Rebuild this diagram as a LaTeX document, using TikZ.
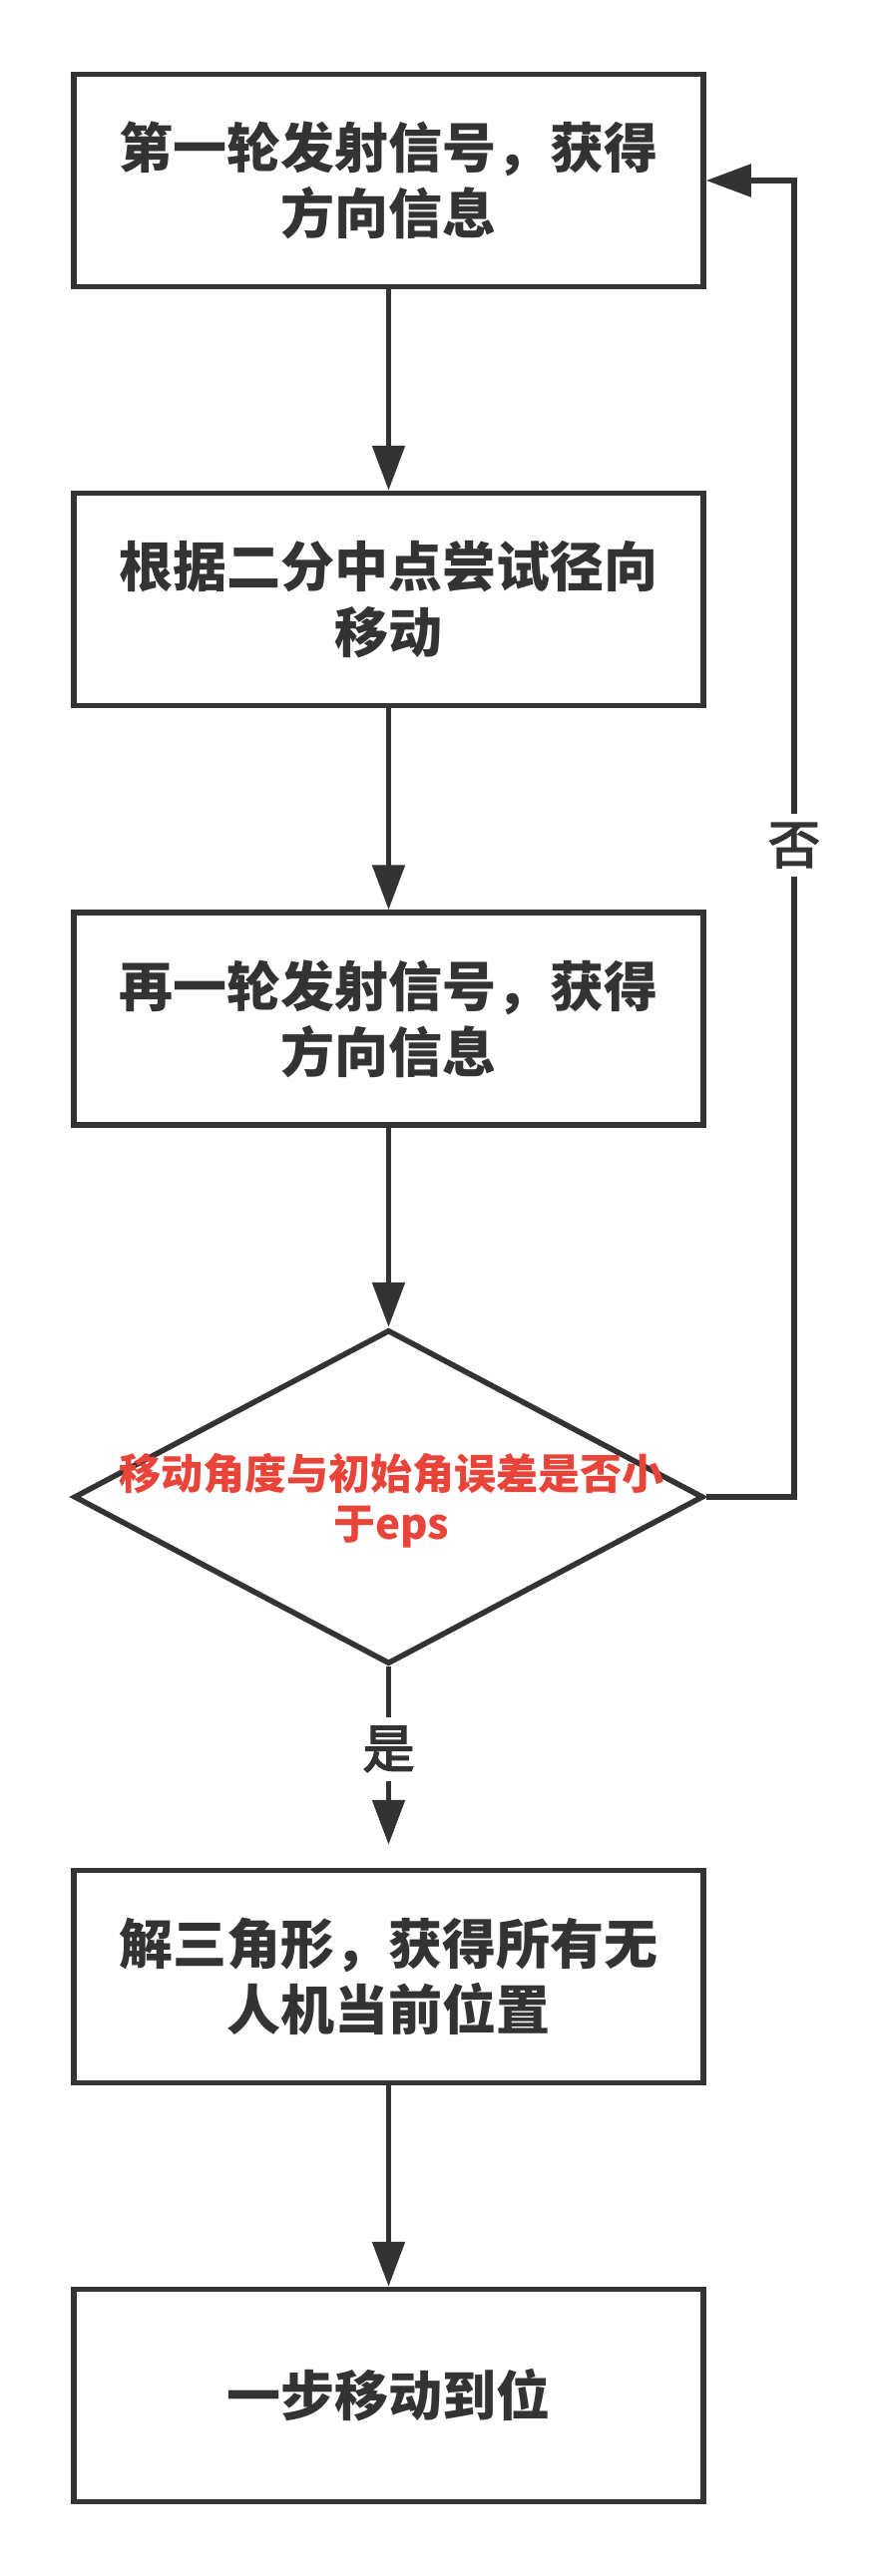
\documentclass[tikz,border=0pt]{standalone}
\usepackage{fontspec}
\newfontfamily\cjk{Noto Sans CJK SC}
\newfontfamily\cjkmid[FakeBold=3]{Noto Sans CJK SC}
\usetikzlibrary{shapes.geometric,arrows.meta}
\definecolor{ink}{RGB}{51,51,51}
\definecolor{alarm}{RGB}{233,68,58}
\tikzset{
  stepbox/.style={draw=ink,fill=white,line width=5.5pt,inner sep=0pt,
    minimum width=631pt,minimum height=213pt,align=center,text=ink,
    font=\cjk\bfseries\fontsize{54}{66}\selectfont},
  flow/.style={draw=ink,line width=5.5pt,-{Triangle[length=45pt,width=32pt]}},
  tag/.style={fill=white,text=ink,inner sep=9pt,
    font=\cjkmid\fontsize{52}{60}\selectfont}
}

\begin{document}
\begin{tikzpicture}[x=1pt,y=-1pt]
\useasboundingbox (0,0) rectangle (870,2583);

\node [stepbox] (first)  at (389.5,  181) {第一轮发射信号，获得\\方向信息};
\node [stepbox] (second) at (389.5,  601) {根据二分中点尝试径向\\移动};
\node [stepbox] (third)  at (389.5, 1021.5) {再一轮发射信号，获得\\方向信息};
\node [draw=ink,line width=5.5pt,diamond,inner sep=0pt,
       minimum width=631pt,minimum height=335pt] (check) at (389.5, 1501) {};
\node [align=center,text=alarm,font=\cjk\bfseries\fontsize{42}{50}\selectfont]
      (checktext) at (392, 1505) {移动角度与初始角误差是否小\\于eps};
\node [stepbox] (fifth)  at (389.5, 1982) {解三角形，获得所有无\\人机当前位置};
\node [stepbox] (sixth)  at (389.5, 2402) {一步移动到位};
\coordinate (loopx) at (796, 0);

\draw [flow] (node cs:name=first)  -- (node cs:name=second);
\draw [flow] (node cs:name=second) -- (node cs:name=third);
\draw [flow] (node cs:name=third)  -- (check.north);
\draw [flow,shorten >=23pt] (check.south) --
    node[tag,pos=.41] {是}
    (fifth.north);
\draw [flow] (node cs:name=fifth)  -- (node cs:name=sixth);
\draw [flow] (check.east) -- (check.east -| loopx) --
    node[tag,pos=.495] {否}
    (first.east -| loopx) -- (first.east);
\end{tikzpicture}
\end{document}
